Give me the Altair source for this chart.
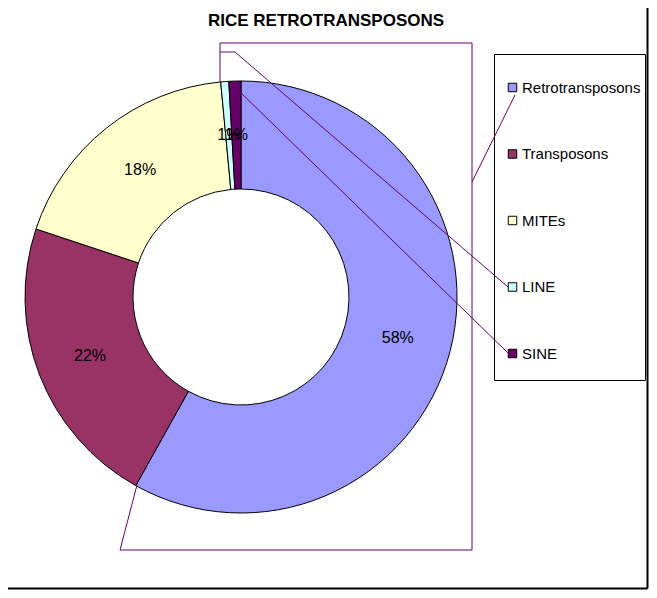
import altair as alt
import pandas as pd

# ---- chart values ----
categories = ["Retrotransposons", "Transposons", "MITEs", "LINE", "SINE"]
shares = [58.1, 22.0, 18.4, 0.6, 0.9]
pct_labels = ["58%", "22%", "18%", "1%", "1%"]
colors = ["#9999FF", "#993366", "#FFFFCC", "#CCFFFF", "#660066"]
title_text = "RICE RETROTRANSPOSONS"

df = pd.DataFrame({
    "category": categories,
    "share": shares,
    "label": pct_labels,
    "order": list(range(len(categories))),
})

# ---- layout (pixels) ----
W, H = 641, 582
CX, CY = 233, 289
R_OUT, R_IN, R_LABEL = 216, 108, 162
FONT = "Liberation Sans"
LEADER = "#660066"

color = alt.Color(
    "category:N",
    scale=alt.Scale(domain=categories, range=colors),
    sort=categories,
    title=None,
    legend=alt.Legend(
        orient="none", legendX=497, legendY=72, direction="vertical",
        symbolType="square", symbolSize=72, symbolStrokeColor="black",
        symbolStrokeWidth=1, labelFont=FONT, labelFontSize=15,
        labelColor="black", rowPadding=50.5, labelOffset=2, padding=0,
    ),
)

base = alt.Chart(df).encode(
    theta=alt.Theta("share:Q", stack=True),
    order=alt.Order("order:Q"),
    x=alt.value(CX), y=alt.value(CY),
)
arcs = base.mark_arc(outerRadius=R_OUT, innerRadius=R_IN, stroke="black",
                     strokeWidth=1).encode(color=color)
labels = base.mark_text(radius=R_LABEL, font=FONT, fontSize=16,
                        color="black").encode(text="label:N")

# decorative leader lines (as drawn in the original spreadsheet chart)
seg = pd.DataFrame({
    "x0": [212, 212, 464, 464, 112, 112, 212, 227, 230],
    "y0": [35, 35, 35, 174, 542, 542, 44, 44, 82],
    "x1": [464, 212, 464, 507, 464, 129, 227, 500, 500],
    "y1": [35, 74, 542, 87, 542, 477, 44, 279, 345],
})
leaders = alt.Chart(seg).mark_rule(color=LEADER, strokeWidth=1).encode(
    x=alt.X("x0:Q", scale=None, axis=None),
    y=alt.Y("y0:Q", scale=None, axis=None),
    x2="x1:Q", y2="y1:Q",
)

frame = pd.DataFrame({"x0": [W - 1.5, 0], "y0": [0, H - 1.5], "x1": [W - 1.5, W - 1.5], "y1": [H - 1.5, H - 1.5]})
outer = alt.Chart(frame).mark_rule(color="black", strokeWidth=2).encode(
    x=alt.X("x0:Q", scale=None, axis=None),
    y=alt.Y("y0:Q", scale=None, axis=None),
    x2="x1:Q", y2="y1:Q",
)

legend_box = alt.Chart(pd.DataFrame({"k": [0]})).mark_rect(
    fillOpacity=0, stroke="black", strokeWidth=1
).encode(x=alt.value(486.5), x2=alt.value(637.5), y=alt.value(46.5), y2=alt.value(372.5))

title = alt.Chart(pd.DataFrame({"t": [title_text]})).mark_text(
    font=FONT, fontSize=17, fontWeight="bold", align="center",
    baseline="middle", color="black"
).encode(x=alt.value(318), y=alt.value(13), text="t:N")

chart = alt.layer(legend_box, arcs, leaders, labels, title, outer).properties(
    width=W, height=H, padding=0, background="white",
    autosize=alt.AutoSizeParams(type="none"),
).configure_view(strokeWidth=0, stroke="transparent")

chart.save("out.html", embed_options={"renderer": "svg", "actions": False})
